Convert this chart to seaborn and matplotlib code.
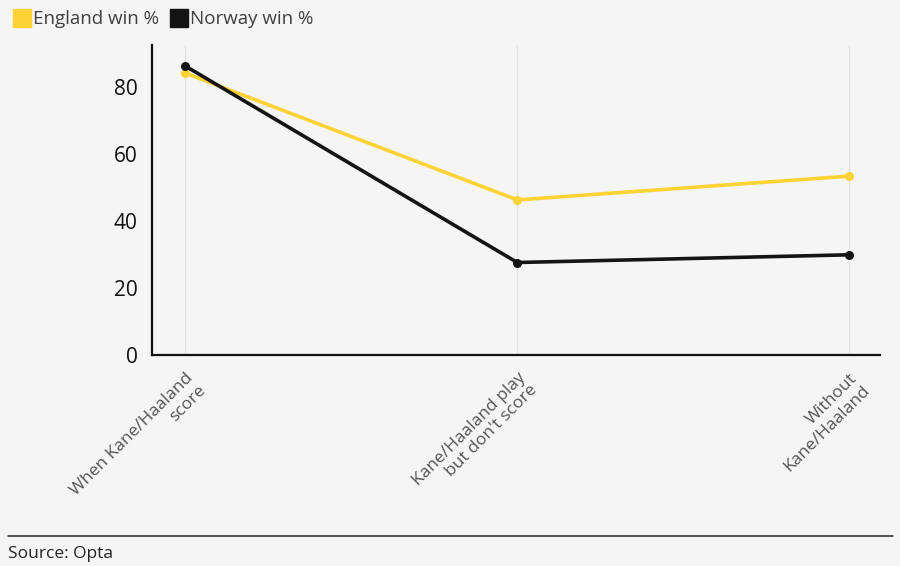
import pandas as pd
import matplotlib.pyplot as plt
import seaborn as sns

categories = ["When Kane/Haaland\nscore", "Kane/Haaland play\nbut don't score", "Without\nKane/Haaland"]
england_win = [84.2, 46.3, 53.4]
norway_win = [86.3, 27.6, 29.9]
series_names = ["England win %", "Norway win %"]
colors = ["#FCD235", "#141414"]
y_ticks = [0, 20, 40, 60, 80]

bg = "#F5F5F5"


def build_frame():
    rows = []
    for name, vals in zip(series_names, [england_win, norway_win]):
        for i, v in enumerate(vals):
            rows.append({"pos": i, "series": name, "value": v})
    return pd.DataFrame(rows)


def main():
    sns.set_style("white")
    plt.rcParams["font.family"] = ["Open Sans", "DejaVu Sans"]

    df = build_frame()
    fig = plt.figure(figsize=(9, 5.66), dpi=100, facecolor=bg)
    ax = fig.add_axes([0.169, 0.373, 0.809, 0.547], facecolor=bg)

    for x in range(len(categories)):
        ax.axvline(x, color="#E4E4E4", lw=1, zorder=0)

    sns.lineplot(data=df, x="pos", y="value", hue="series", palette=colors,
                 hue_order=series_names, marker="o", markersize=6.5,
                 markeredgewidth=0, linewidth=2.6, legend=False, ax=ax)

    ax.set_xlim(-0.1, 2.093)
    ax.set_ylim(0, 92.5)
    ax.set_xticks(range(len(categories)))
    ax.set_xticklabels(categories, rotation=45, ha="right", rotation_mode="anchor",
                       multialignment="right", linespacing=1.1,
                       fontsize=12.5, color="#555555")
    ax.set_yticks(y_ticks)
    ax.set_yticklabels([str(t) for t in y_ticks], fontsize=15, color="#111111")
    ax.set_xlabel("")
    ax.set_ylabel("")
    ax.tick_params(axis="both", direction="out", length=7, width=1.4, color="#111111")
    ax.tick_params(axis="x", pad=4)
    for s in ["top", "right"]:
        ax.spines[s].set_visible(False)
    for s in ["left", "bottom"]:
        ax.spines[s].set_color("#111111")
        ax.spines[s].set_linewidth(1.6)

    # legend squares at the top
    handles = [plt.Line2D([], [], marker="s", ls="", markersize=13, color=c) for c in colors]
    leg = fig.legend(handles, series_names, loc="upper left", bbox_to_anchor=(0.0, 1.005),
                     ncol=2, frameon=False, fontsize=13.5, handlelength=0.9,
                     handletextpad=0.15, columnspacing=0.6, borderaxespad=0.3)
    for t in leg.get_texts():
        t.set_color("#404040")

    fig.add_artist(plt.Line2D([0.009, 0.992], [0.053, 0.053], color="#222222", lw=1.1))
    fig.text(0.009, 0.022, "Source: Opta", fontsize=12.5, color="#222222", va="center")

    fig.savefig("out.png", dpi=100, facecolor=bg)


if __name__ == "__main__":
    main()
